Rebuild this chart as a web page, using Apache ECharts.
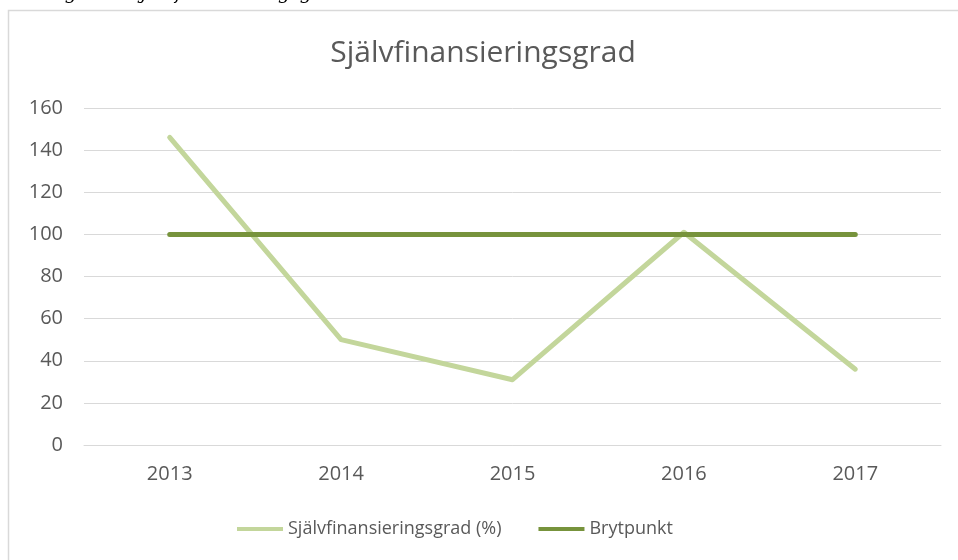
<!DOCTYPE html>
<html>
<head>
<meta charset="utf-8">
<script src="https://cdn.jsdelivr.net/npm/echarts@6/dist/echarts.min.js"></script>
<style>
  html, body { margin: 0; padding: 0; background: #fff; }
  #chart { width: 958px; height: 560px; }
</style>
</head>
<body>
<div id="chart"></div>
<script>
// data
const years = ['2013', '2014', '2015', '2016', '2017'];
const sjalvfin = [146, 50, 31, 101, 36];
const brytpunkt = [100, 100, 100, 100, 100];
const yTicks = { min: 0, max: 160, interval: 20 };

const textColor = '#595959';
const font = '"Open Sans", "Noto Sans", sans-serif';

const chart = echarts.init(document.getElementById('chart'));

const option = {
    animation: false,
    backgroundColor: '#fff',
    graphic: [
        // caption cut off at the top of the screenshot
        {
            type: 'text',
            x: 5,
            y: -6,
            style: {
                text: 'Se diagram: Självfinansieringsgrad',
                font: 'italic 19px "DejaVu Serif", "Liberation Serif", serif',
                fill: '#000',
                textVerticalAlign: 'middle'
            }
        },
        // chart frame
        {
            type: 'rect',
            shape: { x: 8.5, y: 10.5, width: 1000, height: 600 },
            style: { fill: 'none', stroke: '#d9d9d9', lineWidth: 1.5 },
            z: -1
        },
        {
            type: 'text',
            x: 483,
            y: 53,
            style: {
                text: 'Självfinansieringsgrad',
                font: '30px ' + font,
                fill: textColor,
                textAlign: 'center',
                textVerticalAlign: 'middle'
            }
        }
    ],
    grid: {
        left: 84,
        right: 17,
        top: 108,
        bottom: 115
    },
    legend: {
        left: 237,
        top: 520,
        padding: 0,
        icon: 'rect',
        itemWidth: 46,
        itemHeight: 4,
        itemGap: 37,
        textStyle: { color: textColor, fontSize: 18, fontFamily: font },
        data: ['Självfinansieringsgrad (%)', 'Brytpunkt']
    },
    xAxis: {
        type: 'category',
        data: years,
        boundaryGap: true,
        axisLine: { show: true, lineStyle: { color: '#d9d9d9' } },
        axisTick: { show: false },
        axisLabel: { color: textColor, fontSize: 20, fontFamily: font, margin: 19 }
    },
    yAxis: {
        type: 'value',
        min: yTicks.min,
        max: yTicks.max,
        interval: yTicks.interval,
        axisLine: { show: false },
        axisTick: { show: false },
        axisLabel: { color: textColor, fontSize: 20, fontFamily: font, margin: 21 },
        splitLine: { lineStyle: { color: '#d9d9d9', width: 1 } }
    },
    series: [
        {
            name: 'Självfinansieringsgrad (%)',
            type: 'line',
            data: sjalvfin,
            symbol: 'none',
            color: '#C3D69B',
            lineStyle: { width: 5, color: '#C3D69B', cap: 'round', join: 'round' }
        },
        {
            name: 'Brytpunkt',
            type: 'line',
            data: brytpunkt,
            symbol: 'none',
            color: '#77933C',
            lineStyle: { width: 5, color: '#77933C', cap: 'round' }
        }
    ]
};

chart.setOption(option);
</script>
</body>
</html>
